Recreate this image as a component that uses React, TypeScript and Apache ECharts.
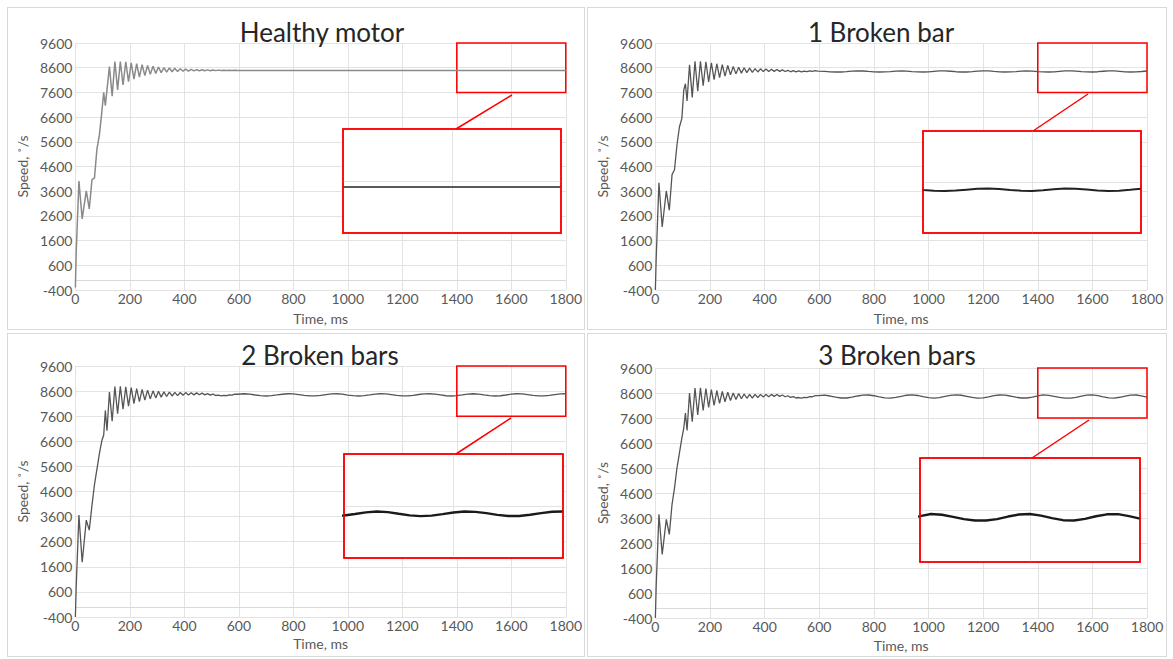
import React, { useEffect, useRef } from "react";
import * as echarts from "echarts";

const FONT = "Lato, 'Open Sans', sans-serif";

// time axis (ms)
const timeMs = [
  0, 3, 13, 25, 40, 51, 61, 70, 79, 88, 97, 104, 110, 116,
  125, 135, 145, 155, 165, 175, 185, 195, 205, 215, 225, 235, 245, 255, 265, 275,
  285, 295, 305, 315, 325, 335, 345, 355, 365, 375, 385, 395, 405, 415, 425, 435,
  445, 455, 465, 475, 485, 495, 505, 515, 525, 535, 545, 555, 565, 575, 585, 595,
  620, 640, 660, 680, 700, 720, 740, 760, 780, 800,
  820, 840, 860, 880, 900, 920, 940, 960, 980, 1000,
  1020, 1040, 1060, 1080, 1100, 1120, 1140, 1160, 1180, 1200,
  1220, 1240, 1260, 1280, 1300, 1320, 1340, 1360, 1380, 1400,
  1420, 1440, 1460, 1480, 1500, 1520, 1540, 1560, 1580, 1600,
  1620, 1640, 1660, 1680, 1700, 1720, 1740, 1760, 1780, 1800,
];

// speed, deg/s
const healthySpeed = [
  -300, 1100, 4010, 2480, 3610, 2880, 4070, 4130, 5300, 5860, 6800, 7600, 7060, 7700,
  8650, 7450, 8850, 7700, 8850, 7900, 8840, 8040, 8800, 8140, 8760, 8220, 8720, 8280, 8690, 8330,
  8660, 8370, 8630, 8400, 8605, 8420, 8590, 8435, 8575, 8448, 8560, 8458, 8545, 8465, 8535, 8470,
  8525, 8474, 8518, 8477, 8512, 8480, 8506, 8482, 8502, 8484, 8498, 8485, 8495, 8486, 8492, 8487,
  8490, 8483, 8489, 8484, 8488, 8485, 8488, 8485, 8487, 8486,
  8487, 8486, 8487, 8486, 8487, 8486, 8486, 8486, 8487, 8486,
  8486, 8487, 8486, 8486, 8487, 8486, 8486, 8487, 8486, 8486,
  8487, 8486, 8486, 8486, 8487, 8486, 8486, 8487, 8486, 8486,
  8486, 8487, 8486, 8486, 8487, 8486, 8486, 8486, 8487, 8486,
  8486, 8487, 8486, 8486, 8486, 8487, 8486, 8486, 8487, 8486,
];

const oneBarSpeed = [
  -400, 900, 3940, 2150, 3610, 2830, 4270, 4470, 5470, 6200, 6550, 7700, 7950, 7250,
  8720, 7400, 8860, 7650, 8860, 7870, 8840, 8020, 8800, 8120, 8760, 8200, 8720, 8260, 8690, 8310,
  8650, 8350, 8620, 8380, 8600, 8400, 8580, 8415, 8565, 8428, 8555, 8440, 8545, 8448, 8535, 8452,
  8525, 8450, 8510, 8445, 8495, 8435, 8480, 8428, 8470, 8430, 8465, 8440, 8470, 8455, 8478, 8465,
  8453, 8434, 8425, 8426, 8440, 8459, 8475, 8467, 8448, 8431,
  8425, 8429, 8445, 8465, 8474, 8462, 8442, 8428, 8425, 8433,
  8452, 8469, 8472, 8456, 8437, 8426, 8425, 8438, 8458, 8475,
  8469, 8450, 8432, 8425, 8428, 8444, 8463, 8475, 8464, 8444,
  8428, 8425, 8431, 8450, 8468, 8473, 8461, 8444, 8429, 8425,
  8437, 8457, 8473, 8470, 8454, 8435, 8425, 8430, 8447, 8466,
];

const twoBarSpeed = [
  -400, 800, 3660, 1780, 3460, 3060, 4060, 4870, 5480, 6100, 6620, 6850, 7830, 7020,
  8565, 7400, 8780, 7700, 8790, 7880, 8770, 8000, 8740, 8100, 8700, 8180, 8670, 8240, 8640, 8290,
  8610, 8330, 8590, 8360, 8570, 8385, 8560, 8405, 8550, 8420, 8545, 8435, 8540, 8445, 8535, 8450,
  8530, 8455, 8518, 8450, 8500, 8440, 8480, 8425, 8440, 8410, 8430, 8415, 8450, 8440, 8480, 8475,
  8494, 8479, 8444, 8417, 8405, 8419, 8446, 8475, 8494, 8488,
  8460, 8430, 8408, 8410, 8431, 8462, 8487, 8494, 8477, 8443,
  8417, 8405, 8418, 8446, 8479, 8494, 8486, 8462, 8430, 8408,
  8409, 8430, 8464, 8488, 8494, 8476, 8446, 8415, 8405, 8418,
  8446, 8478, 8495, 8482, 8450, 8420, 8405, 8414, 8444, 8476,
  8494, 8487, 8462, 8429, 8408, 8409, 8431, 8462, 8489, 8494,
];

const threeBarSpeed = [
  -400, 900, 3750, 2150, 3550, 2950, 4150, 4800, 5600, 6200, 6800, 7200, 7800, 7100,
  8600, 7450, 8800, 7720, 8810, 7900, 8780, 8020, 8740, 8110, 8700, 8190, 8660, 8250, 8630, 8300,
  8600, 8340, 8580, 8370, 8560, 8390, 8550, 8400, 8545, 8420, 8545, 8440, 8545, 8455, 8545, 8465,
  8540, 8465, 8520, 8450, 8490, 8425, 8455, 8400, 8420, 8395, 8425, 8415, 8455, 8450, 8495, 8495,
  8516, 8480, 8432, 8400, 8401, 8433, 8481, 8517, 8521, 8491,
  8443, 8406, 8397, 8423, 8469, 8511, 8524, 8501, 8456, 8413,
  8396, 8414, 8463, 8502, 8524, 8510, 8468, 8422, 8397, 8406,
  8445, 8492, 8521, 8516, 8480, 8432, 8400, 8401, 8433, 8481,
  8524, 8508, 8468, 8424, 8398, 8397, 8425, 8474, 8514, 8523,
  8493, 8443, 8404, 8398, 8430, 8479, 8517, 8521, 8483, 8433,
];

const xTicks = { min: 0, max: 1800, step: 200 };
const yTicks = { min: -400, max: 9600, step: 1000 };
const zoomWindow = { x0: 1400, x1: 1800, y0: 7600, y1: 9600 };

type Cfg = {
  title: string;
  values: number[];
  left: number; top: number; width: number; height: number;
  gridTop: number; gridHeight: number; nameGap: number;
  titleX: number; titleY: number;
  inset: { left: number; top: number; width: number; height: number };
  link: [number, number, number, number];
  mainColor: string; mainWidth: number; insetColor: string; insetWidth: number;
};

const panels: Cfg[] = [
  {
    title: "Healthy motor", values: healthySpeed,
    left: 7, top: 7, width: 578, height: 323,
    gridTop: 36, gridHeight: 252, nameGap: 21, titleX: 315, titleY: 25,
    inset: { left: 336, top: 122, width: 218, height: 104 },
    link: [505, 88, 449, 122],
    mainColor: "#8a8a8a", mainWidth: 1.5, insetColor: "#5a5a5a", insetWidth: 2,
  },
  {
    title: "1 Broken bar", values: oneBarSpeed,
    left: 587, top: 7, width: 580, height: 323,
    gridTop: 36, gridHeight: 252, nameGap: 21, titleX: 294, titleY: 25,
    inset: { left: 336, top: 124, width: 218, height: 102 },
    link: [501, 87, 446, 124],
    mainColor: "#555555", mainWidth: 1.3, insetColor: "#222222", insetWidth: 2,
  },
  {
    title: "2 Broken bars", values: twoBarSpeed,
    left: 7, top: 333, width: 578, height: 324,
    gridTop: 33, gridHeight: 251, nameGap: 13, titleX: 313, titleY: 22,
    inset: { left: 337, top: 121, width: 219, height: 104 },
    link: [504, 85, 449, 121],
    mainColor: "#555555", mainWidth: 1.3, insetColor: "#1a1a1a", insetWidth: 2.4,
  },
  {
    title: "3 Broken bars", values: threeBarSpeed,
    left: 587, top: 333, width: 580, height: 324,
    gridTop: 35, gridHeight: 251, nameGap: 13, titleX: 310, titleY: 22,
    inset: { left: 333, top: 125, width: 220, height: 104 },
    link: [502, 87, 445, 125],
    mainColor: "#555555", mainWidth: 1.3, insetColor: "#1a1a1a", insetWidth: 2.4,
  },
];

const LABEL = "#595959";
const GRID = "#e3e3e3";
const plain = (v: number) => String(v);

function Panel({ cfg }: { cfg: Cfg }) {
  const ref = useRef<HTMLDivElement>(null);
  useEffect(() => {
    const chart = echarts.init(ref.current as HTMLDivElement, null, { renderer: "svg" });
    const data = timeMs.map((t, i) => [t, cfg.values[i]]);
    const ins = cfg.inset;
    chart.setOption({
      animation: false,
      textStyle: { fontFamily: FONT },
      grid: [
        { left: 61, top: cfg.gridTop, width: 499, height: cfg.gridHeight },
        {
          left: ins.left, top: ins.top, width: ins.width, height: ins.height,
          show: true, backgroundColor: "#ffffff", borderColor: "#ff0000", borderWidth: 1.5, z: 10,
        },
      ],
      xAxis: [
        {
          type: "value", gridIndex: 0, min: xTicks.min, max: xTicks.max, interval: xTicks.step,
          name: "Time, ms", nameLocation: "middle", nameGap: cfg.nameGap,
          nameTextStyle: { color: LABEL, fontSize: 14, fontFamily: FONT },
          axisLine: { show: true, lineStyle: { color: "#d9d9d9" } },
          axisTick: { show: false },
          axisLabel: { color: LABEL, fontSize: 14, margin: 1, fontFamily: FONT, formatter: plain },
          splitLine: { show: true, lineStyle: { color: GRID, width: 1 } },
        },
        {
          type: "value", gridIndex: 1, min: zoomWindow.x0, max: zoomWindow.x1, interval: 200,
          axisLine: { show: false }, axisTick: { show: false }, axisLabel: { show: false },
          splitLine: { show: true, showMinLine: false, showMaxLine: false, lineStyle: { color: GRID } }, z: 11,
        },
      ],
      yAxis: [
        {
          type: "value", gridIndex: 0, min: yTicks.min, max: yTicks.max, interval: yTicks.step,
          name: "Speed, ˚/s", nameLocation: "middle", nameGap: 43,
          nameTextStyle: { color: LABEL, fontSize: 14, fontFamily: FONT },
          axisLine: { show: false }, axisTick: { show: false },
          axisLabel: { color: LABEL, fontSize: 14, margin: 3, fontFamily: FONT, formatter: plain },
          splitLine: { show: true, lineStyle: { color: GRID, width: 1 } },
        },
        {
          type: "value", gridIndex: 1, min: zoomWindow.y0, max: zoomWindow.y1, interval: 1000,
          axisLine: { show: false }, axisTick: { show: false }, axisLabel: { show: false },
          splitLine: { show: true, showMinLine: false, showMaxLine: false, lineStyle: { color: GRID } }, z: 11,
        },
      ],
      series: [
        {
          type: "line", xAxisIndex: 0, yAxisIndex: 0, data, showSymbol: false, symbol: "none",
          lineStyle: { color: cfg.mainColor, width: cfg.mainWidth },
          markArea: {
            silent: true,
            itemStyle: { color: "rgba(0,0,0,0)", borderColor: "#ff0000", borderWidth: 1.5 },
            data: [[{ coord: [zoomWindow.x0, zoomWindow.y1] }, { coord: [zoomWindow.x1, zoomWindow.y0] }]],
          },
        },
        {
          type: "line", xAxisIndex: 1, yAxisIndex: 1, data, showSymbol: false, symbol: "none",
          lineStyle: { color: cfg.insetColor, width: cfg.insetWidth }, z: 12, clip: true,
        },
      ],
      graphic: [
        {
          type: "text", x: cfg.titleX, y: cfg.titleY, z: 20,
          style: {
            text: cfg.title, textAlign: "center", textVerticalAlign: "middle",
            fontSize: 26, fill: "#262626", fontFamily: FONT,
          },
        },
        {
          type: "line", z: 20,
          shape: { x1: cfg.link[0], y1: cfg.link[1], x2: cfg.link[2], y2: cfg.link[3] },
          style: { stroke: "#ff0000", lineWidth: 1.5 },
        },
        {
          type: "rect", z: 30, silent: true,
          shape: { x: ins.left, y: ins.top, width: ins.width, height: ins.height },
          style: { fill: "none", stroke: "#ff0000", lineWidth: 1.5 },
        },
      ],
    });
    return () => chart.dispose();
  }, []);
  return (
    <div style={{ position: "absolute", left: cfg.left, top: cfg.top, width: cfg.width, height: cfg.height }}>
      <div ref={ref} style={{ position: "absolute", left: 0, top: 0, width: cfg.width, height: cfg.height }} />
      <div
        style={{
          position: "absolute", left: 0, top: 0, width: cfg.width, height: cfg.height,
          border: "1px solid #d9d9d9", boxSizing: "border-box", pointerEvents: "none",
        }}
      />
    </div>
  );
}

export default function App() {
  return (
    <div style={{ position: "fixed", left: 0, top: 0, width: 1173, height: 659, background: "#ffffff", overflow: "hidden" }}>
      {panels.map((p) => (
        <Panel key={p.title} cfg={p} />
      ))}
    </div>
  );
}
